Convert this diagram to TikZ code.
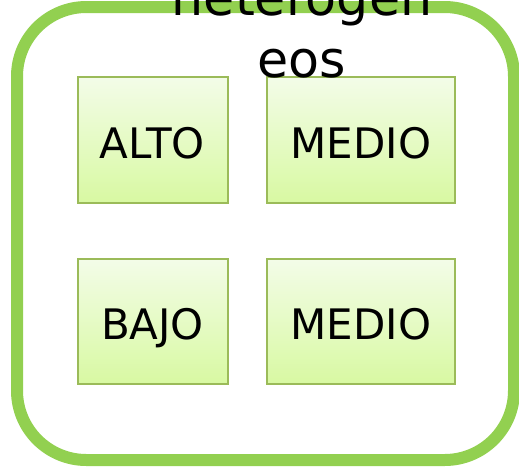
\documentclass[tikz,border=0pt]{standalone}
\usepackage{fontspec}
\setmainfont{DejaVu Sans}
\definecolor{outergreen}{HTML}{92D050}
\definecolor{boxborder}{HTML}{9BBB59}
\definecolor{boxtop}{HTML}{F3FCE8}
\definecolor{boxbot}{HTML}{D8F9A2}
\tikzset{
  lvlbox/.style={draw=boxborder, line width=1.5pt, top color=boxtop, bottom color=boxbot,
    minimum width=112.5pt, minimum height=94pt, inner sep=0pt, text height=27pt, text depth=0pt,
    font=\fontsize{31.5}{38}\selectfont},
  lvlboxwide/.style={lvlbox, minimum width=141pt},
  frame/.style={draw=outergreen, line width=9pt, rounded corners=52pt}
}
\begin{document}
\begin{tikzpicture}[x=0.75pt,y=-0.75pt]
\useasboundingbox (0,0) rectangle (519,469);
\draw[frame] (17,7) rectangle (514,460);
\node[lvlbox] (alto) at (152.5,140) {ALTO};
\node[lvlboxwide] (medio1) at (361,140) {MEDIO};
\node[lvlbox] (bajo) at (152.5,321.5) {BAJO};
\node[lvlboxwide] (medio2) at (361,321.5) {MEDIO};
\node[align=center, anchor=base, inner sep=0pt, font=\fontsize{38}{46.5}\selectfont] (title) at (302,77) {heterogen\\eos};
\end{tikzpicture}
\end{document}
